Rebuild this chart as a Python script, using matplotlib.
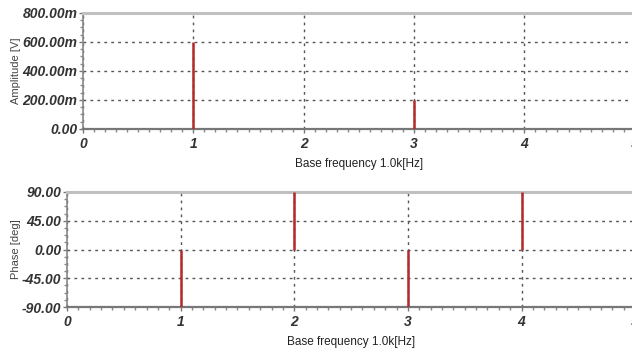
import matplotlib
matplotlib.use('Agg')
import matplotlib.pyplot as plt
from matplotlib.ticker import AutoMinorLocator

plt.rcParams['font.family'] = ['Liberation Sans', 'DejaVu Sans']

# harmonic spectrum data
harmonics = [1, 2, 3, 4]
amplitude = [0.6, 0.0, 0.2, 0.0]        # [V]
phase = [-90.0, 90.0, -90.0, 90.0]     # [deg]

amp_ticks = [0.0, 0.2, 0.4, 0.6, 0.8]
amp_labels = ['0.00', '200.00m', '400.00m', '600.00m', '800.00m']
phase_ticks = [-90, -45, 0, 45, 90]
phase_labels = ['-90.00', '-45.00', '0.00', '45.00', '90.00']
x_ticks = [0, 1, 2, 3, 4, 5]
xlabel = 'Base frequency 1.0k[Hz]'

stem_color = '#b22a2a'
tick_color = '#333333'


def style_axes(ax):
    ax.set_xlim(0, 5)
    ax.set_xticks(x_ticks)
    ax.set_xticklabels([str(t) for t in x_ticks])
    ax.xaxis.set_minor_locator(AutoMinorLocator(10))
    ax.yaxis.set_minor_locator(AutoMinorLocator(4))
    ax.grid(True, which='major', linestyle=(0, (2, 3)), color='#555555', linewidth=1.0)
    ax.spines['top'].set_color('#c0c0c0')
    ax.spines['top'].set_linewidth(2.2)
    ax.spines['right'].set_visible(False)
    ax.spines['left'].set_color('#888888')
    ax.spines['left'].set_linewidth(1.2)
    ax.spines['bottom'].set_color('#777777')
    ax.spines['bottom'].set_linewidth(1.6)
    ax.tick_params(which='major', direction='out', length=3, color='#777777', width=1,
                   labelsize=10, labelcolor=tick_color, pad=1)
    ax.tick_params(axis='x', which='major', pad=3)
    ax.tick_params(which='minor', direction='out', length=2, color='#888888', width=1)
    for lab in ax.get_xticklabels() + ax.get_yticklabels():
        lab.set_fontstyle('italic')
        lab.set_fontweight('bold')
    ax.set_xlabel(xlabel, fontsize=8.5, color='#222222', labelpad=5)


fig = plt.figure(figsize=(6.32, 3.53), dpi=100)

ax1 = fig.add_axes([0.1313, 0.6346, 0.873, 0.3286])
ax1.vlines(harmonics, 0, amplitude, color=stem_color, linewidth=1.8, zorder=3)
ax1.set_ylim(0, 0.8)
ax1.set_yticks(amp_ticks)
ax1.set_yticklabels(amp_labels)
style_axes(ax1)
ax1.set_ylabel('Amplitude [V]', fontsize=8, color='#444444', labelpad=1)

ax2 = fig.add_axes([0.106, 0.1303, 0.899, 0.3258])
ax2.vlines(harmonics, 0, phase, color=stem_color, linewidth=1.8, zorder=3)
ax2.set_ylim(-90, 90)
ax2.set_yticks(phase_ticks)
ax2.set_yticklabels(phase_labels)
style_axes(ax2)
ax2.set_ylabel('Phase [deg]', fontsize=8, color='#444444', labelpad=1)

fig.savefig('out.png', dpi=100)
